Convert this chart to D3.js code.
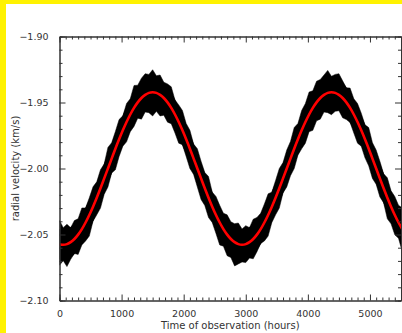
<!DOCTYPE html>
<html>
<head>
<meta charset="utf-8">
<script src="https://cdn.jsdelivr.net/npm/d3@7"></script>
<style>
  html, body { margin: 0; padding: 0; background: #fff200; }
  svg { display: block; }
</style>
</head>
<body>
<svg id="chart" width="402" height="333"></svg>
<script>
// sampling of the observations (hours)
const sampleStep = 60

// red curve: sinusoidal fit of the radial velocity (km/s), one value per sample
const fitVelocity = [
  -2.0573,-2.0578,-2.0573,-2.0558,-2.0534,-2.0501,-2.0459,-2.0409,-2.0352,-2.0289,
  -2.0221,-2.0150,-2.0075,-2.0000,-1.9925,-1.9850,-1.9779,-1.9711,-1.9648,-1.9591,
  -1.9541,-1.9499,-1.9466,-1.9442,-1.9427,-1.9422,-1.9427,-1.9442,-1.9466,-1.9499,
  -1.9541,-1.9591,-1.9648,-1.9711,-1.9779,-1.9850,-1.9925,-2.0000,-2.0075,-2.0150,
  -2.0221,-2.0289,-2.0352,-2.0409,-2.0459,-2.0501,-2.0534,-2.0558,-2.0573,
  -2.0578,-2.0573,-2.0558,-2.0534,-2.0501,-2.0459,-2.0409,-2.0352,-2.0289,
  -2.0221,-2.0150,-2.0075,-2.0000,-1.9925,-1.9850,-1.9779,-1.9711,-1.9648,-1.9591,
  -1.9541,-1.9499,-1.9466,-1.9442,-1.9427,-1.9422,-1.9427,-1.9442,-1.9466,-1.9499,
  -1.9541,-1.9591,-1.9648,-1.9711,-1.9779,-1.9850,-1.9925,-2.0000,-2.0075,-2.0150,
  -2.0221,-2.0289,-2.0352,-2.0409,-2.0459
]

// black noisy data
// dense scatter around the fit (km/s, half width of the solid band)
const scatterHalfWidth = 0.0115
// longest excursions above / below the fit, per sample (km/s)
const noiseAbove = [
  0.018,0.013,0.015,0.011,0.014,0.012,0.016,0.011,0.013,0.015,
  0.012,0.014,0.011,0.016,0.012,0.013,0.015,0.011,0.014,0.012,
  0.017,0.013,0.015,0.016,0.014,0.017,0.013,0.015,0.012,0.014,
  0.016,0.011,0.013,0.015,0.012,0.014,0.011,0.015,0.013,0.012,
  0.016,0.011,0.014,0.013,0.012,0.015,0.013,0.014,0.016,0.012,
  0.014,0.011,0.015,0.013,0.012,0.014,0.016,0.011,0.013,0.015,
  0.012,0.014,0.013,0.016,0.012,0.015,0.014,0.017,0.013,0.016,
  0.014,0.015,0.017,0.012,0.014,0.016,0.013,0.011,0.015,0.012,
  0.014,0.013,0.011,0.016,0.012,0.014,0.013,0.011,0.015,0.012,
  0.014,0.013,0.016
]
const noiseBelow = [
  0.016,0.012,0.017,0.013,0.011,0.015,0.012,0.014,0.016,0.011,
  0.013,0.015,0.012,0.014,0.011,0.016,0.013,0.012,0.015,0.013,
  0.014,0.012,0.016,0.013,0.015,0.018,0.014,0.016,0.013,0.015,
  0.012,0.014,0.016,0.011,0.013,0.015,0.012,0.014,0.016,0.013,
  0.015,0.012,0.014,0.017,0.013,0.016,0.014,0.018,0.015,0.013,
  0.014,0.012,0.015,0.013,0.011,0.014,0.016,0.012,0.013,0.015,
  0.011,0.014,0.013,0.015,0.012,0.014,0.016,0.013,0.017,0.014,
  0.016,0.013,0.015,0.017,0.014,0.012,0.015,0.013,0.011,0.014,
  0.016,0.012,0.014,0.013,0.015,0.012,0.014,0.011,0.016,0.013,
  0.015,0.012,0.017
]

const xMajor = [0, 1000, 2000, 3000, 4000, 5000]
const yMajor = [-2.10, -2.05, -2.00, -1.95, -1.90]

const data = fitVelocity.map((v, i) => ({
  t: i * sampleStep,
  fit: v,
  hi: v + noiseAbove[i],
  lo: v - noiseBelow[i]
}))

const plotLeft = 59.5, plotRight = 401, plotTop = 36.5, plotBottom = 300.5
const font = "DejaVu Sans"
const ink = "#333"

const svg = d3.select("#chart")

svg.append("rect")
  .attr("x", 6).attr("y", 4)
  .attr("width", 402).attr("height", 333)
  .attr("fill", "white")

const x = d3.scaleLinear().domain([0, 5500]).range([plotLeft, plotRight])
const y = d3.scaleLinear().domain([-2.10, -1.90]).range([plotBottom, plotTop])

svg.append("clipPath").attr("id", "plot")
  .append("rect")
  .attr("x", plotLeft).attr("y", plotTop)
  .attr("width", plotRight - plotLeft).attr("height", plotBottom - plotTop)

const plot = svg.append("g").attr("clip-path", "url(#plot)")

// solid band of observations
plot.append("path")
  .datum(data)
  .attr("d", d3.area()
    .x(d => x(d.t))
    .y0(d => y(d.fit - scatterHalfWidth))
    .y1(d => y(d.fit + scatterHalfWidth))
    .curve(d3.curveMonotoneX))
  .attr("fill", "black")

// ragged outer edge of the scatter
plot.append("path")
  .datum(data)
  .attr("d", d3.area().x(d => x(d.t)).y0(d => y(d.lo)).y1(d => y(d.hi)))
  .attr("fill", "black")
  .attr("stroke", "black")
  .attr("stroke-width", 0.5)

plot.append("path")
  .datum(data)
  .attr("d", d3.line().x(d => x(d.t)).y(d => y(d.fit)).curve(d3.curveMonotoneX))
  .attr("fill", "none")
  .attr("stroke", "#ff0000")
  .attr("stroke-width", 2.6)

// axes: IDL style box with inward ticks on all four sides
const xMinor = d3.range(0, 5501, 100).filter(v => v % 1000 !== 0)
const yMinor = d3.range(-2.10, -1.899, 0.01).filter(v => Math.abs(Math.round(v * 100) % 5) !== 0)

function styleAxis(g) {
  g.select(".domain").attr("stroke", ink)
  g.selectAll(".tick line").attr("stroke", ink)
  g.selectAll(".tick text")
    .attr("fill", ink)
    .style("font-family", font)
    .style("font-size", "9.5px")
}

const fmtY = v => d3.format(".2f")(v).replace("-", "\u2212")

// bottom
svg.append("g").attr("transform", `translate(0,${plotBottom})`)
  .call(d3.axisBottom(x).tickValues(xMajor).tickSizeInner(-6).tickSizeOuter(0).tickPadding(10).tickFormat(d3.format("d")))
  .call(styleAxis)
svg.append("g").attr("transform", `translate(0,${plotBottom})`)
  .call(d3.axisBottom(x).tickValues(xMinor).tickSize(-3).tickFormat(""))
  .call(styleAxis)
// top
svg.append("g").attr("transform", `translate(0,${plotTop})`)
  .call(d3.axisTop(x).tickValues(xMajor).tickSizeInner(-6).tickSizeOuter(0).tickFormat(""))
  .call(styleAxis)
svg.append("g").attr("transform", `translate(0,${plotTop})`)
  .call(d3.axisTop(x).tickValues(xMinor).tickSize(-3).tickFormat(""))
  .call(styleAxis)
// left
svg.append("g").attr("transform", `translate(${plotLeft},0)`)
  .call(d3.axisLeft(y).tickValues(yMajor).tickSizeInner(-6).tickSizeOuter(0).tickPadding(11).tickFormat(fmtY))
  .call(styleAxis)
svg.append("g").attr("transform", `translate(${plotLeft},0)`)
  .call(d3.axisLeft(y).tickValues(yMinor).tickSize(-3).tickFormat(""))
  .call(styleAxis)
// right
svg.append("g").attr("transform", `translate(${plotRight},0)`)
  .call(d3.axisRight(y).tickValues(yMajor).tickSizeInner(-6).tickSizeOuter(0).tickFormat(""))
  .call(styleAxis)
svg.append("g").attr("transform", `translate(${plotRight},0)`)
  .call(d3.axisRight(y).tickValues(yMinor).tickSize(-3).tickFormat(""))
  .call(styleAxis)

svg.append("text")
  .attr("x", (plotLeft + plotRight) / 2).attr("y", 329)
  .attr("text-anchor", "middle")
  .attr("fill", ink)
  .style("font-family", font).style("font-size", "10px")
  .text("Time of observation (hours)")

svg.append("text")
  .attr("transform", `translate(19,${(plotTop + plotBottom) / 2}) rotate(-90)`)
  .attr("text-anchor", "middle")
  .attr("fill", ink)
  .style("font-family", font).style("font-size", "10px")
  .text("radial velocity (km/s)")
</script>
</body>
</html>
